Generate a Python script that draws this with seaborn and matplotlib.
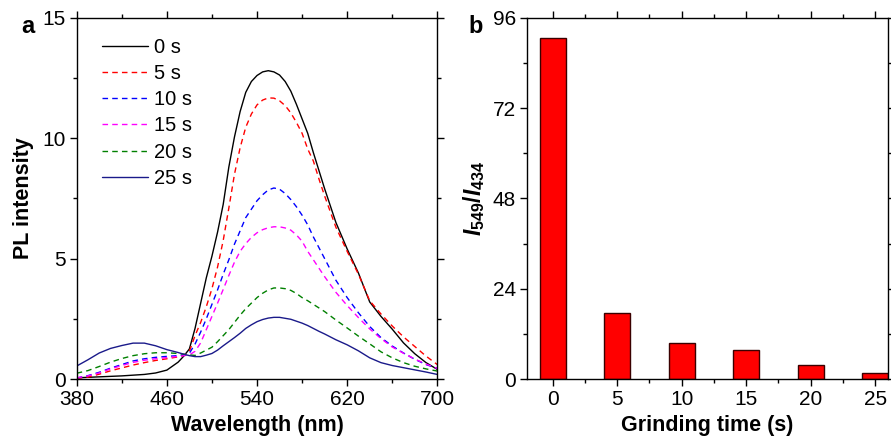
import matplotlib
matplotlib.use("Agg")
import matplotlib.pyplot as plt
from matplotlib.ticker import MultipleLocator, FixedLocator
import seaborn as sns
import pandas as pd

# ---------------- data ----------------
wavelength = [380, 390, 400, 410, 420, 430, 440, 450, 460, 470,
              475, 480, 485, 490, 495, 500, 505, 510, 515, 520, 525, 530, 535, 540, 545,
              550, 555, 560, 565, 570, 575, 580, 585, 590, 595, 600,
              610, 620, 630, 640, 650, 660, 670, 680, 690, 700]

pl_0s = [0.05, 0.07, 0.09, 0.11, 0.13, 0.16, 0.19, 0.25, 0.37, 0.70,
         0.95, 1.25, 2.10, 3.15, 4.20, 5.10, 6.10, 7.25, 8.80, 10.05, 11.10, 11.90, 12.35, 12.60, 12.75,
         12.80, 12.75, 12.62, 12.35, 11.95, 11.40, 10.80, 10.20, 9.40, 8.65, 7.90,
         6.50, 5.40, 4.40, 3.20, 2.60, 2.07, 1.50, 1.05, 0.68, 0.40]

pl_5s = [0.03, 0.08, 0.20, 0.34, 0.46, 0.58, 0.68, 0.77, 0.84, 0.92,
         0.98, 1.15, 1.80, 2.35, 3.00, 3.75, 4.65, 5.75, 7.10, 8.50, 9.60, 10.45, 11.00, 11.38, 11.58,
         11.67, 11.66, 11.55, 11.35, 11.05, 10.65, 10.20, 9.55, 9.05, 8.30, 7.60,
         6.30, 5.30, 4.35, 3.25, 2.70, 2.20, 1.75, 1.35, 0.95, 0.60]

pl_10s = [0.04, 0.14, 0.28, 0.45, 0.60, 0.75, 0.84, 0.90, 0.94, 0.97,
          1.00, 1.07, 1.45, 1.95, 2.50, 3.10, 3.70, 4.35, 4.95, 5.60, 6.15, 6.70, 7.05, 7.40, 7.65,
          7.85, 7.93, 7.88, 7.70, 7.45, 7.15, 6.80, 6.40, 5.90, 5.45, 5.00,
          4.10, 3.38, 2.75, 2.18, 1.72, 1.37, 1.08, 0.82, 0.60, 0.44]

pl_15s = [0.05, 0.13, 0.25, 0.42, 0.56, 0.69, 0.78, 0.84, 0.89, 0.94,
          0.97, 1.00, 1.15, 1.50, 2.05, 2.60, 3.15, 3.72, 4.30, 4.85, 5.30, 5.62, 5.88, 6.07, 6.20,
          6.28, 6.32, 6.32, 6.27, 6.18, 5.98, 5.72, 5.30, 4.95, 4.60, 4.25,
          3.60, 3.05, 2.55, 2.08, 1.68, 1.33, 1.07, 0.83, 0.62, 0.44]

pl_20s = [0.24, 0.35, 0.52, 0.70, 0.85, 0.97, 1.05, 1.09, 1.09, 1.06,
          1.03, 1.00, 0.98, 1.08, 1.20, 1.32, 1.55, 1.80, 2.05, 2.35, 2.65, 2.92, 3.15, 3.38, 3.56,
          3.70, 3.78, 3.78, 3.75, 3.68, 3.55, 3.38, 3.25, 3.10, 2.95, 2.80,
          2.45, 2.12, 1.78, 1.46, 1.13, 0.88, 0.68, 0.53, 0.42, 0.33]

pl_25s = [0.54, 0.80, 1.08, 1.27, 1.39, 1.49, 1.49, 1.38, 1.22, 1.10,
          1.03, 0.97, 0.93, 0.93, 0.99, 1.06, 1.20, 1.38, 1.55, 1.72, 1.90, 2.10, 2.25, 2.38, 2.47,
          2.53, 2.56, 2.56, 2.52, 2.48, 2.40, 2.32, 2.22, 2.10, 1.98, 1.87,
          1.63, 1.42, 1.17, 0.88, 0.68, 0.56, 0.47, 0.38, 0.29, 0.19]

series_labels = ["0 s", "5 s", "10 s", "15 s", "20 s", "25 s"]
series_values = [pl_0s, pl_5s, pl_10s, pl_15s, pl_20s, pl_25s]
series_colors = ["black", "#ff0000", "#0000ff", "#ff00ff", "#008000", "#1a1a8a"]
series_styles = ["-", (0, (4, 3)), (0, (4, 3)), (0, (4, 3)), (0, (4, 3)), "-"]

wl_ticks = [380, 460, 540, 620, 700]
wl_minor = [420, 500, 580, 660]

grinding_time = [0, 5, 10, 15, 20, 25]
ratio_549_434 = [90.6, 17.5, 9.7, 7.7, 3.6, 1.7]

# ---------------- style ----------------
sns.set_style("ticks")
plt.rcParams["font.family"] = ["Liberation Sans", "DejaVu Sans"]
plt.rcParams["mathtext.fontset"] = "custom"
plt.rcParams["mathtext.it"] = "Liberation Sans:italic:bold"
plt.rcParams["mathtext.rm"] = "Liberation Sans:bold"
plt.rcParams["mathtext.bf"] = "Liberation Sans:bold"
plt.rcParams["axes.linewidth"] = 1.0
plt.rcParams["axes.edgecolor"] = "black"
plt.rcParams["text.color"] = "black"
plt.rcParams["axes.labelcolor"] = "black"
plt.rcParams["xtick.color"] = "black"
plt.rcParams["ytick.color"] = "black"

fig = plt.figure(figsize=(8.91, 4.40), dpi=100)
ax1 = fig.add_axes([0.0861, 0.1386, 0.4047, 0.8212])
ax2 = fig.add_axes([0.5915, 0.1386, 0.4051, 0.8212])

TICK_FS = 15
LABEL_FS = 15.5

# ---------------- panel a ----------------
for lab, vals, col, ls in zip(series_labels, series_values, series_colors, series_styles):
    df = pd.DataFrame({"wl": wavelength, "I": vals})
    sns.lineplot(data=df, x="wl", y="I", ax=ax1, color=col, linestyle=ls,
                 linewidth=1.0, label=lab)

ax1.set_xlim(380, 700)
ax1.set_ylim(0, 15)
ax1.xaxis.set_major_locator(FixedLocator(wl_ticks))
ax1.xaxis.set_minor_locator(FixedLocator(wl_minor))
ax1.yaxis.set_major_locator(MultipleLocator(5))
ax1.yaxis.set_minor_locator(MultipleLocator(2.5))
ax1.set_xlabel("Wavelength (nm)", fontsize=LABEL_FS, fontweight="bold", labelpad=4)
ax1.set_ylabel("PL intensity", fontsize=LABEL_FS, fontweight="bold", labelpad=6)
leg = ax1.legend(loc="upper left", bbox_to_anchor=(0.07, 0.945), frameon=False,
                 fontsize=14.5, handlelength=2.3, handletextpad=0.3,
                 labelspacing=0.36, borderaxespad=0.0, borderpad=0.0)

# ---------------- panel b ----------------
dfb = pd.DataFrame({"t": grinding_time, "r": ratio_549_434})
sns.barplot(data=dfb, x="t", y="r", ax=ax2, native_scale=True, width=0.4,
            color="#ff0000", saturation=1, edgecolor="#3a0000", linewidth=1.0)
ax2.set_xlim(-2, 26)
ax2.set_ylim(0, 96)
ax2.xaxis.set_major_locator(MultipleLocator(5))
ax2.xaxis.set_minor_locator(MultipleLocator(2.5))
ax2.yaxis.set_major_locator(MultipleLocator(24))
ax2.yaxis.set_minor_locator(MultipleLocator(12))
ax2.set_xlabel("Grinding time (s)", fontsize=LABEL_FS, fontweight="bold", labelpad=4)
ax2.set_ylabel(r"$I_{549}/I_{434}$", fontsize=LABEL_FS + 1, labelpad=4)

for ax in (ax1, ax2):
    for s in ax.spines.values():
        s.set_visible(True)
        s.set_linewidth(1.0)
        s.set_color("black")
    ax.tick_params(which="both", direction="out", top=True, right=True,
                   labeltop=False, labelright=False, width=1.0, colors="black")
    ax.tick_params(which="major", length=5, labelsize=TICK_FS, pad=3)
    ax.tick_params(which="minor", length=3)

fig.text(0.024, 0.925, "a", fontsize=17, fontweight="bold")
fig.text(0.526, 0.925, "b", fontsize=17, fontweight="bold")

fig.savefig("out.png", dpi=100)
